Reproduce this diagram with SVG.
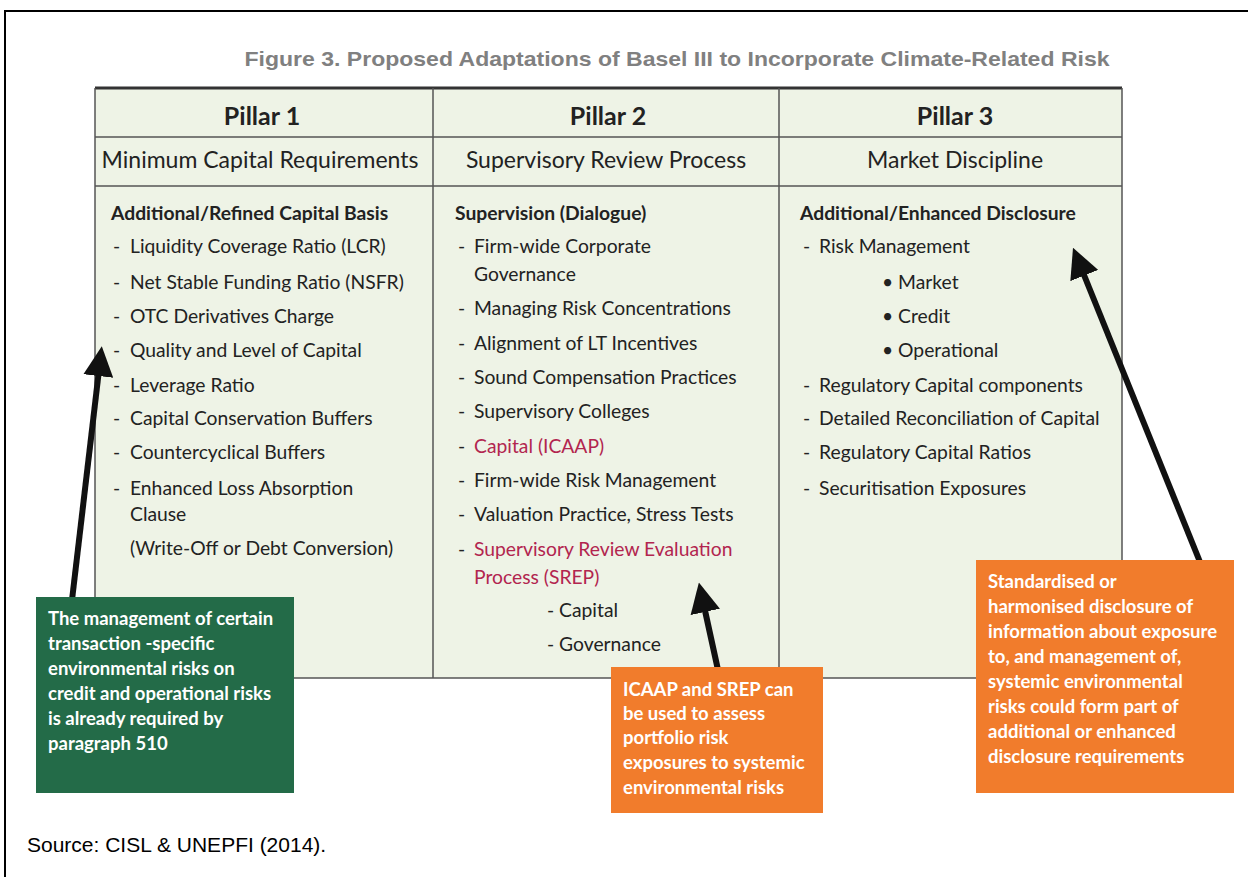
<svg xmlns="http://www.w3.org/2000/svg" width="1248" height="877" viewBox="0 0 1248 877">
<style>
.t{font-family:Lato,"Open Sans","Liberation Sans",sans-serif;fill:#222;font-size:19.3px}
.b{font-weight:bold}
.h1{font-family:Lato,"Liberation Sans",sans-serif;font-weight:bold;font-size:25px;fill:#222;text-anchor:middle}
.h2{font-family:Lato,"Liberation Sans",sans-serif;font-size:23px;fill:#222;text-anchor:middle}
.red{fill:#b2254f}
.w{font-family:Lato,"Liberation Sans",sans-serif;font-size:18.5px;fill:#fff;font-weight:bold}
.grid{stroke:#555;stroke-width:1.5;fill:none}
.arr{stroke:#111;stroke-width:6;fill:none}
</style>
<defs>
<marker id="ah" viewBox="0 0 10 10" refX="2" refY="5" markerWidth="5" markerHeight="5" orient="auto" markerUnits="strokeWidth">
<path d="M0,0 L10,5 L0,10 z" fill="#111"/>
</marker>
</defs>
<rect x="0" y="0" width="1248" height="877" fill="#fff"/>
<path d="M5,877 V11 H1248" stroke="#000" stroke-width="2" fill="none"/>
<text x="677" y="66" text-anchor="middle" font-family="Liberation Sans,Arial,sans-serif" font-weight="bold" font-size="21" fill="#808080" textLength="865" lengthAdjust="spacingAndGlyphs">Figure 3. Proposed Adaptations of Basel III to Incorporate Climate-Related Risk</text>

<g id="table">
<rect x="95" y="88" width="1027" height="590" fill="#eef3e6"/>
<line x1="95" y1="88" x2="1122" y2="88" stroke="#333" stroke-width="3"/>
<line x1="95" y1="137" x2="1122" y2="137" class="grid"/>
<line x1="95" y1="186" x2="1122" y2="186" class="grid"/>
<line x1="95" y1="678" x2="1122" y2="678" class="grid"/>
<line x1="95" y1="88" x2="95" y2="678" class="grid"/>
<line x1="433" y1="88" x2="433" y2="678" class="grid"/>
<line x1="779" y1="88" x2="779" y2="678" class="grid"/>
<line x1="1122" y1="88" x2="1122" y2="678" class="grid"/>
</g>

<g id="pillar1">
<text class="h1" x="262" y="125">Pillar 1</text>
<text class="h2" x="260" y="168">Minimum Capital Requirements</text>
<text class="t b" x="111" y="220">Additional/Refined Capital Basis</text>
<g class="t">
<text x="113" y="253">-</text><text x="130" y="253">Liquidity Coverage Ratio (LCR)</text>
<text x="113" y="289">-</text><text x="130" y="289">Net Stable Funding Ratio (NSFR)</text>
<text x="113" y="323">-</text><text x="130" y="323">OTC Derivatives Charge</text>
<text x="113" y="357">-</text><text x="130" y="357">Quality and Level of Capital</text>
<text x="113" y="392">-</text><text x="130" y="392">Leverage Ratio</text>
<text x="113" y="425">-</text><text x="130" y="425">Capital Conservation Buffers</text>
<text x="113" y="459">-</text><text x="130" y="459">Countercyclical Buffers</text>
<text x="113" y="495">-</text><text x="130" y="495">Enhanced Loss Absorption</text>
<text x="130" y="521">Clause</text>
<text x="130" y="555">(Write-Off or Debt Conversion)</text>
</g>
</g>

<g id="pillar2">
<text class="h1" x="608" y="125">Pillar 2</text>
<text class="h2" x="606" y="168">Supervisory Review Process</text>
<text class="t b" x="455" y="220">Supervision (Dialogue)</text>
<g class="t">
<text x="458" y="253">-</text><text x="474" y="253">Firm-wide Corporate</text>
<text x="474" y="281">Governance</text>
<text x="458" y="315">-</text><text x="474" y="315">Managing Risk Concentrations</text>
<text x="458" y="350">-</text><text x="474" y="350">Alignment of LT Incentives</text>
<text x="458" y="384">-</text><text x="474" y="384">Sound Compensation Practices</text>
<text x="458" y="418">-</text><text x="474" y="418">Supervisory Colleges</text>
<text x="458" y="453">-</text><text x="474" y="453" class="red">Capital (ICAAP)</text>
<text x="458" y="487">-</text><text x="474" y="487">Firm-wide Risk Management</text>
<text x="458" y="521">-</text><text x="474" y="521">Valuation Practice, Stress Tests</text>
<text x="458" y="556">-</text><text x="474" y="556" class="red">Supervisory Review Evaluation</text>
<text x="474" y="584" class="red">Process (SREP)</text>
<text x="547" y="617">- Capital</text>
<text x="547" y="651">- Governance</text>
</g>
</g>

<g id="pillar3">
<text class="h1" x="955" y="125">Pillar 3</text>
<text class="h2" x="955" y="168">Market Discipline</text>
<text class="t b" x="800" y="220">Additional/Enhanced Disclosure</text>
<g class="t">
<text x="803" y="253">-</text><text x="819" y="253">Risk Management</text>
<text x="882" y="289">• Market</text>
<text x="882" y="323">• Credit</text>
<text x="882" y="357">• Operational</text>
<text x="803" y="392">-</text><text x="819" y="392">Regulatory Capital components</text>
<text x="803" y="425">-</text><text x="819" y="425">Detailed Reconciliation of Capital</text>
<text x="803" y="459">-</text><text x="819" y="459">Regulatory Capital Ratios</text>
<text x="803" y="495">-</text><text x="819" y="495">Securitisation Exposures</text>
</g>
</g>

<g id="connectors">
<line class="arr" x1="72" y1="600" x2="99" y2="370" marker-end="url(#ah)"/>
<line class="arr" x1="718" y1="670" x2="704" y2="606" marker-end="url(#ah)"/>
<line class="arr" x1="1200" y1="562" x2="1082" y2="270" marker-end="url(#ah)"/>
</g>

<g id="note1">
<rect x="36" y="597" width="258" height="196" fill="#236b48"/>
<text class="w" x="48" y="625">The management of certain</text>
<text class="w" x="48" y="650">transaction -specific</text>
<text class="w" x="48" y="675">environmental risks on</text>
<text class="w" x="48" y="700">credit and operational risks</text>
<text class="w" x="48" y="725">is already required by</text>
<text class="w" x="48" y="750">paragraph 510</text>
</g>

<g id="note2">
<rect x="611" y="667" width="212" height="146" fill="#f17c2c"/>
<text class="w" x="623" y="696">ICAAP and SREP can</text>
<text class="w" x="623" y="720">be used to assess</text>
<text class="w" x="623" y="744">portfolio risk</text>
<text class="w" x="623" y="769">exposures to systemic</text>
<text class="w" x="623" y="794">environmental risks</text>
</g>

<g id="note3">
<rect x="976" y="560" width="258" height="233" fill="#f17c2c"/>
<text class="w" x="988" y="588">Standardised or</text>
<text class="w" x="988" y="613">harmonised disclosure of</text>
<text class="w" x="988" y="638">information about exposure</text>
<text class="w" x="988" y="663">to, and management of,</text>
<text class="w" x="988" y="688">systemic environmental</text>
<text class="w" x="988" y="713">risks could form part of</text>
<text class="w" x="988" y="738">additional or enhanced</text>
<text class="w" x="988" y="763">disclosure requirements</text>
</g>

<text x="27" y="852" font-family="Liberation Sans,Arial,sans-serif" font-size="21" fill="#000">Source: CISL &amp; UNEPFI (2014).</text>
</svg>
